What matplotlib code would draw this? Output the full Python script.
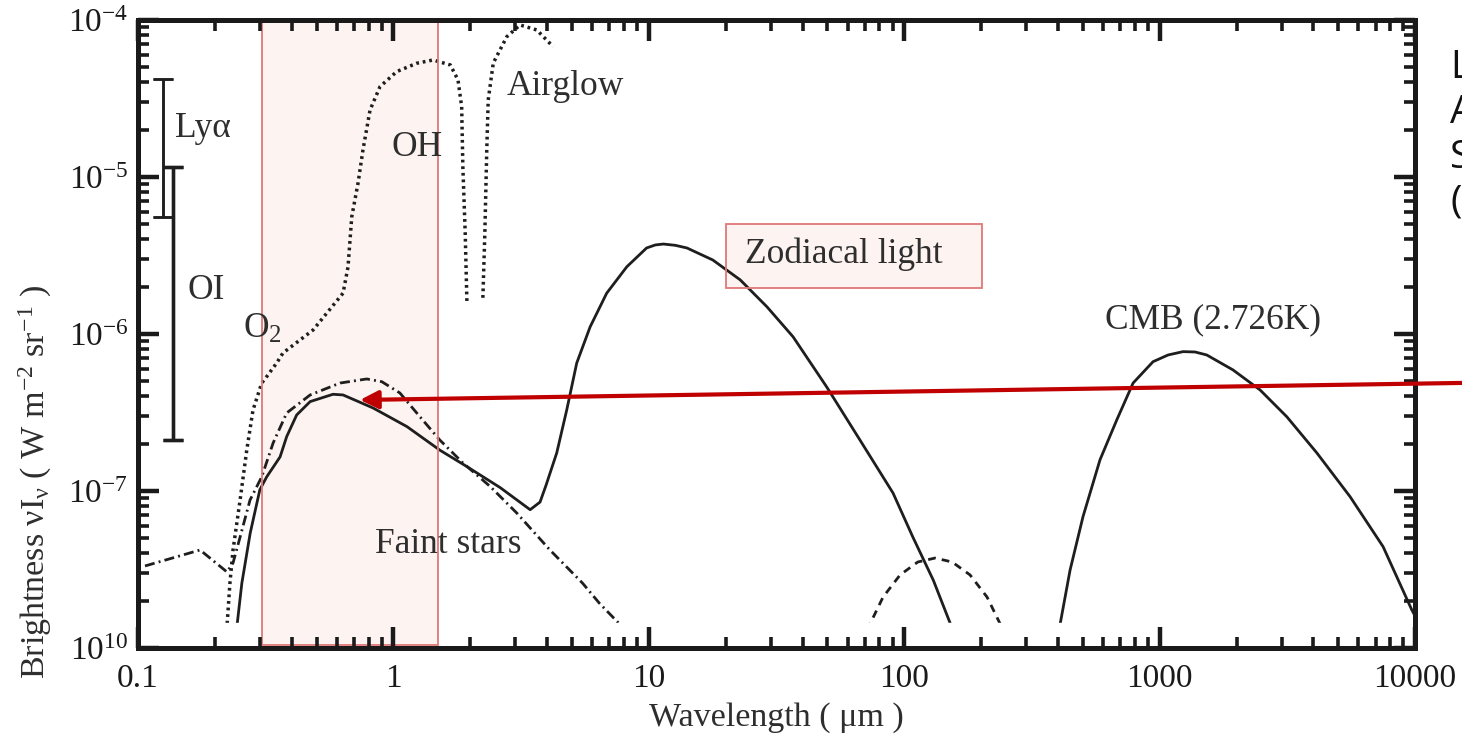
import numpy as np
import matplotlib
matplotlib.use('Agg')
from matplotlib import pyplot as plt
from matplotlib.patches import Rectangle
from matplotlib.ticker import LogLocator, NullFormatter

plt.rcParams['font.family'] = ['Liberation Serif', 'DejaVu Serif']
plt.rcParams['mathtext.fontset'] = 'custom'
plt.rcParams['mathtext.rm'] = 'Liberation Serif'
plt.rcParams['mathtext.it'] = 'Liberation Serif:italic'
plt.rcParams['mathtext.bf'] = 'Liberation Serif:bold'

# zodiacal light (solid)
zodi_wl = [0.243, 0.255, 0.275, 0.300, 0.319, 0.360, 0.382, 0.418, 0.472, 0.580, 0.635,
           0.832, 1.13, 1.52, 1.94, 2.62, 3.43, 3.75, 3.96, 4.36, 4.77, 5.22, 5.89, 6.84,
           8.2, 9.8, 10.6, 11.4, 12.7, 14.1, 17.8, 22.8, 29.0, 36.7, 49.7, 67.1, 90.4, 108,
           130, 155]
zodi_val = [1.3e-8, 2.59e-8, 5.40e-8, 1.02e-7, 1.23e-7, 1.65e-7, 2.22e-7, 3.05e-7, 3.71e-7,
            4.13e-7, 4.09e-7, 3.38e-7, 2.57e-7, 1.82e-7, 1.43e-7, 1.05e-7, 7.6e-8, 8.5e-8,
            1.09e-7, 1.75e-7, 3.28e-7, 6.53e-7, 1.11e-6, 1.82e-6, 2.68e-6, 3.53e-6, 3.69e-6,
            3.74e-6, 3.67e-6, 3.53e-6, 2.96e-6, 2.21e-6, 1.49e-6, 9.6e-7, 4.6e-7, 2.11e-7,
            9.7e-8, 5.1e-8, 2.7e-8, 1.3e-8]

# faint stars (dash-dot)
stars_wl = [0.1065, 0.175, 0.223, 0.2355, 0.251, 0.2745, 0.305, 0.338, 0.382, 0.472, 0.618,
            0.786, 0.90, 1.06, 1.27, 1.52, 1.87, 2.39, 3.04, 4.1, 5.5, 6.4, 8.1]
stars_val = [3.33e-8, 4.21e-8, 3.05e-8, 3.48e-8, 5.09e-8, 8.76e-8, 1.23e-7, 2.02e-7, 3.14e-7,
             4.09e-7, 4.87e-7, 5.17e-7, 4.97e-7, 4.21e-7, 2.97e-7, 2.11e-7, 1.51e-7, 1.07e-7,
             7.24e-8, 4.21e-8, 2.59e-8, 1.93e-8, 1.3e-8]

# airglow (dotted), two pieces
glow1_wl = [0.2225, 0.229, 0.2355, 0.251, 0.2665, 0.282, 0.305, 0.319, 0.349, 0.3695, 0.4845,
            0.635, 0.664, 0.687, 0.727, 0.760, 0.81, 0.886, 1.03, 1.234, 1.43, 1.67, 1.79,
            1.85, 1.87, 1.91, 1.94]
glow1_val = [1.3e-8, 2.59e-8, 4.21e-8, 8.76e-8, 1.82e-7, 3.28e-7, 4.87e-7, 5.35e-7, 6.53e-7,
             7.57e-7, 1.06e-6, 1.82e-6, 2.67e-6, 5.59e-6, 9.16e-6, 1.49e-5, 2.67e-5, 3.76e-5,
             4.69e-5, 5.30e-5, 5.56e-5, 5.17e-5, 4.15e-5, 2.80e-5, 1.16e-5, 4.40e-6, 1.58e-6]
glow2_wl = [2.24, 2.28, 2.32, 2.35, 2.46, 2.78, 3.13, 3.64, 4.22]
glow2_val = [1.70e-6, 4.40e-6, 1.49e-5, 3.09e-5, 5.32e-5, 7.83e-5, 9.29e-5, 8.64e-5, 6.76e-5]

# dust (dashed)
dust_wl = [71.5, 82.6, 96.3, 113, 132, 154, 181, 211, 244]
dust_val = [1.3e-8, 2.11e-8, 2.92e-8, 3.53e-8, 3.74e-8, 3.53e-8, 2.92e-8, 2.11e-8, 1.3e-8]

# CMB (solid)
cmb_wl = [400, 446, 501, 584, 679, 787, 942, 1079, 1235, 1376, 1529, 1938, 2473, 3147, 4123,
          5566, 7496, 9707, 10000]
cmb_val = [1.2e-8, 3.14e-8, 6.86e-8, 1.58e-7, 2.83e-7, 4.87e-7, 6.66e-7, 7.35e-7, 7.72e-7,
           7.68e-7, 7.35e-7, 5.90e-7, 4.40e-7, 2.97e-7, 1.75e-7, 9.2e-8, 4.42e-8, 1.75e-8,
           1.6e-8]

# emission lines (ranges)
line_names = ['Ly\u03b1', 'OI']
line_wl = [0.1253, 0.137]
line_lo = [5.6e-6, 2.1e-7]
line_hi = [4.2e-5, 1.15e-5]

xticks = [0.1, 1, 10, 100, 1000, 10000]
xlabels = ['0.1', '1', '10', '100', '1000', '10000']
yticks = [1e-8, 1e-7, 1e-6, 1e-5, 1e-4]
ylabels = ['10$^{10}$', '10$^{-7}$', '10$^{-6}$', '10$^{-5}$', '10$^{-4}$']

ink = '#1e1e1e'
txt = '#2e2e2e'
pink = '#fdf3f1'
pink_edge = '#e07878'

fig = plt.figure(figsize=(14.62, 7.45), dpi=100)
ax = fig.add_axes([0.0944, 0.1302, 0.8735, 0.8430])
ax.set_xscale('log')
ax.set_yscale('log')
ax.set_xlim(0.1, 1e4)
ax.set_ylim(1e-8, 1e-4)
ax.set_axisbelow(False)

# pink fills go under the curves
band_x0, band_x1 = 0.305, 1.49
band_y0 = 1.045e-8
ax.add_patch(Rectangle((band_x0, band_y0), band_x1 - band_x0, 1e-4 - band_y0,
                       facecolor=pink, edgecolor='none', zorder=1))
ax.add_patch(Rectangle((20.1, 1.96e-6), 201.7 - 20.1, 5.02e-6 - 1.96e-6,
                       facecolor=pink, edgecolor='none', zorder=1))

ax.plot(zodi_wl, zodi_val, color=ink, lw=2.0, zorder=2)
ax.plot(cmb_wl, cmb_val, color=ink, lw=2.0, zorder=2)
ax.plot(stars_wl, stars_val, color=ink, lw=2.0, linestyle=(0, (3.6, 1.5, 0.7, 1.5)), zorder=2)
ax.plot(glow1_wl, glow1_val, color=ink, lw=2.5, linestyle=(0, (0.8, 1.1)), zorder=2)
ax.plot(glow2_wl, glow2_val, color=ink, lw=2.5, linestyle=(0, (0.8, 1.1)), zorder=2)
ax.plot(dust_wl, dust_val, color=ink, lw=2.0, linestyle=(0, (2.8, 2.2)), zorder=2)

for i in range(len(line_wl)):
    lw = 1.8 if i == 0 else 2.4
    ax.errorbar([line_wl[i]], [line_lo[i]], yerr=[[0], [line_hi[i] - line_lo[i]]],
                fmt='none', ecolor=ink, elinewidth=lw, capsize=7, capthick=lw, zorder=2)
    ax.errorbar([line_wl[i]], [line_hi[i]], yerr=[[line_hi[i] - line_lo[i]], [0]],
                fmt='none', ecolor=ink, elinewidth=lw, capsize=7, capthick=lw, zorder=2)

# white strip over the bottom of the plot
ax.axhspan(1e-8, 10 ** -7.84, color='white', zorder=2.2)
ax.add_patch(Rectangle((band_x0, band_y0), band_x1 - band_x0, 10 ** -7.84 - band_y0,
                       facecolor=pink, edgecolor='none', zorder=2.25))

# outlines of the band and label box
ax.add_patch(Rectangle((band_x0, band_y0), band_x1 - band_x0, 1e-4 - band_y0,
                       facecolor='none', edgecolor=pink_edge, lw=1.3, zorder=2.3))
ax.add_patch(Rectangle((20.1, 1.96e-6), 201.7 - 20.1, 5.02e-6 - 1.96e-6,
                       facecolor='none', edgecolor=pink_edge, lw=1.3, zorder=2.3))

fs = 25.5
ax.text(0.1396, 2.05e-5, line_names[0], fontsize=fs, color=txt, va='center')
ax.text(0.1556, 1.905e-6, line_names[1], fontsize=fs, color=txt, va='center')
ax.text(0.2584, 9.43e-7, 'O$_2$', fontsize=fs, color=txt, va='baseline')
ax.text(0.987, 1.36e-5, 'OH', fontsize=fs, color=txt, va='baseline')
ax.text(2.785, 3.33e-5, 'Airglow', fontsize=fs, color=txt, va='baseline')
ax.text(23.8, 2.83e-6, 'Zodiacal light', fontsize=fs, color=txt, va='baseline')
ax.text(611, 1.09e-6, 'CMB (2.726K)', fontsize=fs, color=txt, va='baseline')
ax.text(0.847, 4.03e-8, 'Faint stars', fontsize=fs, color=txt, va='baseline')

ax.annotate('', xy=(0.74, 3.8e-7), xycoords='data', xytext=(1.0, 0.486),
            textcoords='figure fraction', annotation_clip=False,
            arrowprops=dict(arrowstyle='-|>', color='#c00000', lw=3,
                            mutation_scale=27, shrinkA=0, shrinkB=0), zorder=5)

ax.set_xticks(xticks, labels=xlabels)
ax.set_yticks(yticks, labels=ylabels)
ax.xaxis.set_minor_locator(LogLocator(base=10, subs=range(2, 10), numticks=30))
ax.yaxis.set_minor_locator(LogLocator(base=10, subs=range(2, 10), numticks=30))
ax.xaxis.set_minor_formatter(NullFormatter())
ax.yaxis.set_minor_formatter(NullFormatter())
ax.tick_params(which='both', direction='in', top=True, right=True, colors='#1a1a1a')
ax.tick_params(which='major', length=15, width=3.2, labelsize=24)
ax.tick_params(which='minor', length=8, width=2.6)
ax.tick_params(axis='x', which='major', pad=11)
ax.tick_params(axis='y', which='major', pad=7)
for s in ax.spines.values():
    s.set_linewidth(3.6)
    s.set_color('#1a1a1a')

ax.set_xlabel('Wavelength ( \u03bcm )', fontsize=24.5, color=txt)
ax.xaxis.set_label_coords(0.5, -0.086)
ax.set_ylabel('Brightness \u03bdI$_{\\mathrm{\u03bd}}$ ( W m$^{\\mathrm{-2}}$ sr$^{\\mathrm{-1}}$ )',
              fontsize=24.5, color=txt)
ax.yaxis.set_label_coords(-0.066, 0.264)

# clipped text at the right edge
side = ['L', 'A', 'S', '(']
side_y = [0.8953, 0.8349, 0.7745, 0.7141]
for ch, yy in zip(side, side_y):
    fig.text(0.9918, yy, ch, fontsize=28, family='Open Sans', color='#111111', va='baseline')

fig.savefig('out.png', dpi=100)
